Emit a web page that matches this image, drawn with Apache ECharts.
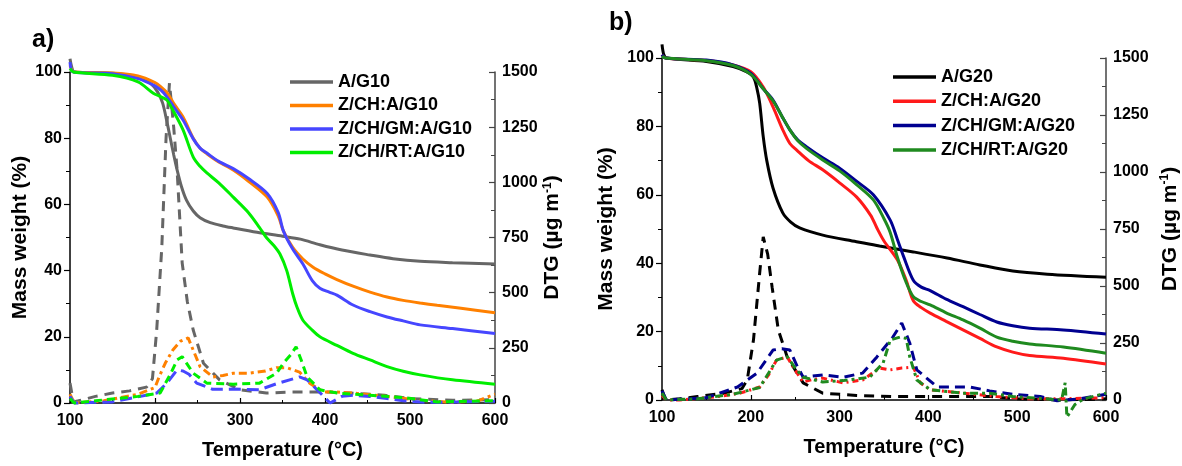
<!DOCTYPE html>
<html>
<head>
<meta charset="utf-8">
<script src="https://cdn.jsdelivr.net/npm/echarts@6/dist/echarts.min.js"></script>
<style>
  html, body { margin: 0; padding: 0; background: #fff; }
  #chart { width: 1182px; height: 466px; }
</style>
</head>
<body>
<div id="chart"></div>
<script>
// ---- panel a) TGA (Mass weight %) : [temperature, value]
var namesA = ['A/G10', 'Z/CH:A/G10', 'Z/CH/GM:A/G10', 'Z/CH/RT:A/G10'];
var tgaA_G10 = [[100,104],[102,101.5],[105,100],[150,99.6],[180,98.5],[195,96.5],[203,94],[209,90.6],[214,85],[218,80],[222,75],[226,70.4],[231,65.5],[237,61.3],[245,58],[253,56],[265,54.5],[280,53.5],[292,52.9],[320,51.6],[350,50.4],[371,49.5],[394,47.8],[420,46.2],[453,44.7],[480,43.6],[512,42.8],[550,42.4],[600,42]];
var tgaA_CH = [[100,102],[105,100],[150,99.7],[180,98.8],[200,96.8],[207,95.5],[214,93.8],[222,90.5],[233,86.4],[245,80],[253,77],[261,75.3],[275,72.8],[292,70.4],[310,67],[332,62.2],[345,56.5],[351,52],[362,47],[374,43.5],[386,41],[400,39],[414,37.3],[433,35.3],[453,33.5],[473,32],[492,31],[512,30.2],[532,29.5],[560,28.6],[600,27.3]];
var tgaA_GM = [[100,103],[104,100],[150,99.5],[180,98],[200,95.8],[207,94.5],[214,92.5],[222,89.5],[233,85.5],[245,79.8],[253,77],[261,75.5],[275,73],[292,70.8],[310,67.8],[332,63.3],[345,57.5],[351,52],[362,46.5],[374,42],[385,37],[394,34.7],[405,33.5],[414,32.6],[433,29.6],[453,27.6],[473,26],[492,24.8],[512,23.6],[550,22.5],[600,21]];
var tgaA_RT = [[100,101],[104,100],[150,99],[180,97],[198,93.6],[207,92.5],[214,91.5],[222,88],[233,82.5],[245,74.3],[253,71.5],[261,69.5],[275,66.5],[292,62.2],[310,57.5],[323,53],[331,50],[340,47.5],[347,45],[355,40],[362,33],[367,29],[374,25],[385,22],[394,20],[414,17.4],[433,15],[453,13],[473,11],[492,9.6],[512,8.5],[550,7],[600,5.7]];

// ---- panel a) DTG (ug m-1)
var dtgA_G10 = [[100,90],[104,5],[110,10],[130,30],[150,45],[170,55],[190,72],[197,110],[202,330],[208,705],[213,1200],[217,1450],[222,1250],[226,1055],[232,634],[238,460],[245,330],[257,180],[276,105],[300,60],[331,45],[360,50],[400,50],[430,45],[470,35],[500,20],[550,12],[600,15]];
var dtgA_CH = [[100,40],[105,0],[140,10],[180,40],[200,70],[205,120],[212,180],[221,240],[230,280],[239,295],[246,230],[253,165],[268,118],[280,125],[292,135],[310,135],[330,145],[343,160],[355,160],[370,140],[382,90],[398,50],[414,50],[433,45],[473,30],[512,12],[551,3],[580,10],[600,40]];
var dtgA_GM = [[100,30],[105,0],[150,5],[170,20],[202,45],[214,90],[226,150],[233,145],[240,130],[249,90],[268,62],[292,63],[323,60],[345,90],[370,118],[379,105],[392,55],[406,0],[420,30],[433,35],[453,30],[473,20],[492,10],[520,3],[560,5],[600,8]];
var dtgA_RT = [[100,20],[105,0],[130,10],[180,30],[206,45],[218,130],[226,195],[232,210],[245,135],[261,90],[292,85],[323,90],[343,135],[351,180],[360,220],[366,255],[372,195],[379,118],[394,60],[414,45],[453,35],[492,25],[532,5],[571,8],[600,10]];

// ---- panel b) TGA
var namesB = ['A/G20', 'Z/CH:A/G20', 'Z/CH/GM:A/G20', 'Z/CH/RT:A/G20'];
var tgaB_G20 = [[100,104],[102,101],[105,100],[150,99],[180,97.5],[195,96],[203,94.4],[207,91],[210,86.8],[214,77],[218,70],[225,62],[236,54.7],[245,52],[255,50.3],[281,48.2],[319,46.3],[345,45],[383,43.3],[421,41.5],[458,39.5],[495,37.7],[534,36.8],[600,35.9]];
var tgaB_CH = [[100,101],[104,100],[150,99.3],[180,98],[200,96],[214,91.5],[225,85.7],[236,79],[244,75],[252,73],[265,70],[281,67.3],[300,63.5],[319,59.4],[335,54],[342,50.3],[350,46.5],[365,41],[375,35],[383,29],[392,27],[402,25.4],[420,23],[439,20.5],[458,18],[477,15.5],[495,14],[514,13],[552,12.2],[600,10.5]];
var tgaB_GM = [[100,101],[104,100],[150,99.4],[180,98],[200,95.5],[214,91],[225,87.7],[235,83],[244,79],[253,76],[263,74],[281,70.8],[300,67.8],[319,64],[338,60],[357,52.6],[365,47],[372,42],[383,35],[392,33],[402,32],[420,29.5],[439,27.3],[458,25],[477,22.8],[495,21.7],[514,21],[552,20.5],[600,19.3]];
var tgaB_RT = [[100,100.5],[104,100],[150,99.2],[180,97.8],[200,95.2],[214,91],[225,87.5],[235,83],[244,79],[253,75.8],[263,73.5],[281,70.2],[300,67],[319,63],[338,58.5],[350,53],[357,49],[365,41.8],[374,35],[383,30.2],[392,28.8],[402,27.8],[420,25.5],[439,23.4],[458,21],[477,18.4],[495,17.2],[514,16.4],[552,15.5],[600,13.7]];

// ---- panel b) DTG
var dtgB_G20 = [[100,45],[104,0],[120,5],[140,15],[170,30],[190,50],[196,88],[203,263],[210,557],[214,715],[219,640],[224,495],[231,307],[241,189],[259,75],[281,30],[319,20],[360,15],[400,15],[440,15],[470,15],[500,5],[550,0],[600,5]];
var dtgB_CH = [[100,20],[105,0],[120,0],[163,15],[188,30],[210,57],[220,110],[229,175],[241,189],[250,130],[259,79],[270,90],[281,96],[304,75],[326,88],[345,140],[357,132],[370,140],[383,144],[391,75],[402,45],[439,30],[477,15],[514,5],[550,5],[600,10]];
var dtgB_GM = [[100,40],[105,0],[150,10],[185,57],[207,118],[225,219],[235,225],[244,219],[252,150],[259,100],[281,110],[304,100],[326,118],[342,189],[360,276],[370,338],[379,250],[387,132],[410,57],[447,57],[469,40],[495,25],[526,15],[545,-3],[570,5],[600,25]];
var dtgB_RT = [[100,30],[105,0],[140,5],[180,25],[210,55],[229,175],[241,190],[250,140],[259,100],[281,79],[304,85],[334,100],[349,162],[357,263],[368,276],[375,270],[379,189],[387,88],[402,45],[439,30],[469,30],[495,15],[533,5],[550,0],[554,75],[556,-75],[565,-20],[575,5],[600,30]];

var xTicks = { min: 100, max: 600, interval: 100 };
var massTicks = { min: 0, max: 100, interval: 20 };
var dtgTicks = { min: 0, max: 1500, interval: 250 };

var colorsA = ['#666666', '#ff8000', '#4646ff', '#00ee00'];
var colorsB = ['#000000', '#ff1a1a', '#000090', '#1f8a1f'];
var dashA = [[10, 7], [8, 4, 3, 4], [12, 6], [8, 5]];
var dashB = [[10, 7], [6, 4, 2, 4], [10, 6], [8, 4, 3, 4]];

var FONT = '"Liberation Sans", Arial, sans-serif';

function plain(v) { return String(v); }

function xAxis(grid, nameGap) {
    return {
        type: 'value', gridIndex: grid, min: xTicks.min, max: xTicks.max, interval: xTicks.interval,
        name: 'Temperature (°C)', nameLocation: 'middle', nameGap: nameGap,
        nameTextStyle: { fontFamily: FONT, fontWeight: 'bold', fontSize: 20, color: '#000' },
        axisLine: { onZero: false, lineStyle: { color: '#000', width: 1.5 } },
        axisTick: { inside: true, length: 5, lineStyle: { color: '#000', width: 1.2 } },
        minorTick: { show: true, splitNumber: 2, length: 3, lineStyle: { color: '#000' } },
        splitLine: { show: false },
        axisLabel: { margin: 10, fontFamily: FONT, fontWeight: 'bold', fontSize: 16, color: '#000', formatter: plain }
    };
}
function massAxis(grid, nameGap) {
    return {
        type: 'value', gridIndex: grid, position: 'left', min: massTicks.min, max: massTicks.max, interval: massTicks.interval,
        name: 'Mass weight (%)', nameLocation: 'middle', nameGap: nameGap, nameRotate: 90,
        nameTextStyle: { fontFamily: FONT, fontWeight: 'bold', fontSize: 21, color: '#000' },
        axisLine: { show: true, onZero: false, lineStyle: { color: '#000', width: 1.5 } },
        axisTick: { show: true, length: 6, lineStyle: { color: '#000', width: 1.2 } },
        minorTick: { show: true, splitNumber: 2, length: 4, lineStyle: { color: '#000' } },
        splitLine: { show: false },
        axisLabel: { margin: 8, fontFamily: FONT, fontWeight: 'bold', fontSize: 16, color: '#000', formatter: plain }
    };
}
function dtgAxis(grid, nameGap) {
    return {
        type: 'value', gridIndex: grid, position: 'right', min: dtgTicks.min, max: dtgTicks.max, interval: dtgTicks.interval,
        name: 'DTG (µg m{sup|-1})', nameLocation: 'middle', nameGap: nameGap, nameRotate: 90,
        nameTextStyle: {
            fontFamily: FONT, fontWeight: 'bold', fontSize: 21, color: '#000',
            rich: { sup: { fontFamily: FONT, fontWeight: 'bold', fontSize: 12, color: '#000', padding: [0, 0, 10, 0] } }
        },
        axisLine: { show: true, onZero: false, lineStyle: { color: '#444', width: 1.5 } },
        axisTick: { show: true, inside: true, length: 6, lineStyle: { color: '#444', width: 1.2 } },
        minorTick: { show: true, splitNumber: 2, length: 4, lineStyle: { color: '#444' } },
        splitLine: { show: false },
        axisLabel: { margin: 7, fontFamily: FONT, fontWeight: 'bold', fontSize: 16, color: '#000', formatter: plain }
    };
}

function solid(name, data, color, xi, yi) {
    return {
        name: name, type: 'line', data: data, xAxisIndex: xi, yAxisIndex: yi,
        smooth: 0.3, symbol: 'none', clip: false, z: 3,
        lineStyle: { color: color, width: 3 }, itemStyle: { color: color }
    };
}
function dashed(name, data, color, dash, xi, yi) {
    return {
        name: name, type: 'line', data: data, xAxisIndex: xi, yAxisIndex: yi,
        smooth: false, symbol: 'none', clip: false, z: 2,
        lineStyle: { color: color, width: 3, type: dash }, itemStyle: { color: color }
    };
}

var tgaA = [tgaA_G10, tgaA_CH, tgaA_GM, tgaA_RT];
var dtgA = [dtgA_G10, dtgA_CH, dtgA_GM, dtgA_RT];
var tgaB = [tgaB_G20, tgaB_CH, tgaB_GM, tgaB_RT];
var dtgB = [dtgB_G20, dtgB_CH, dtgB_GM, dtgB_RT];

var series = [];
for (var i = 0; i < 4; i++) {
    series.push(dashed(namesA[i] + ' DTG', dtgA[i], colorsA[i], dashA[i], 0, 1));
    series.push(dashed(namesB[i] + ' DTG', dtgB[i], colorsB[i], dashB[i], 1, 3));
}
for (var i = 0; i < 4; i++) {
    series.push(solid(namesA[i], tgaA[i], colorsA[i], 0, 0));
    series.push(solid(namesB[i], tgaB[i], colorsB[i], 1, 2));
}

var legendText = { fontFamily: FONT, fontWeight: 'bold', fontSize: 18, color: '#000' };

var myChart = echarts.init(document.getElementById('chart'), null, { renderer: 'canvas' });
myChart.setOption({
    animation: false,
    backgroundColor: '#fff',
    title: [
        { text: 'a)', left: 32, top: 28, padding: 0, textStyle: { fontFamily: FONT, fontWeight: 'bold', fontSize: 25, color: '#000' } },
        { text: 'b)', left: 609, top: 11, padding: 0, textStyle: { fontFamily: FONT, fontWeight: 'bold', fontSize: 25, color: '#000' } }
    ],
    legend: [
        { data: namesA, orient: 'vertical', left: 290, top: 73, padding: 0, icon: 'rect', itemWidth: 43, itemHeight: 3.5, itemGap: 5.5, textStyle: legendText },
        { data: namesB, orient: 'vertical', left: 893, top: 68, padding: 0, icon: 'rect', itemWidth: 43, itemHeight: 3.5, itemGap: 6.3, textStyle: legendText }
    ],
    grid: [
        { left: 70, right: 687, top: 72, bottom: 63 },
        { left: 662, right: 76, top: 58, bottom: 66 }
    ],
    xAxis: [xAxis(0, 37), xAxis(1, 37)],
    yAxis: [massAxis(0, 39), dtgAxis(0, 43), massAxis(1, 45), dtgAxis(1, 53)],
    series: series
});
</script>
</body>
</html>
